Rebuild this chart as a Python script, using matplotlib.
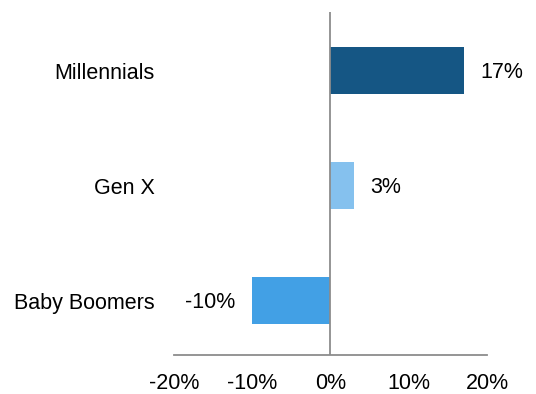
import matplotlib.pyplot as plt

categories = ["Baby Boomers", "Gen X", "Millennials"]
values = [-10, 3, 17]
colors = ["#42a0e5", "#85c1ee", "#155684"]
tick_values = [-20, -10, 0, 10, 20]

plt.rcParams['font.family'] = ['Liberation Sans', 'DejaVu Sans']

fig = plt.figure(figsize=(5.36, 3.94), dpi=100)
ax = fig.add_axes([0.3246, 0.099, 0.584, 0.8705])

pos = list(range(len(categories)))
ax.barh(pos, values, height=0.41, color=colors, zorder=2)
ax.axvline(0, color="#8c8c8c", linewidth=1.3, zorder=3)

for p, v in zip(pos, values):
    off = 12 if v >= 0 else -12
    ax.annotate(str(v) + "%", (v, p), xytext=(off, -1), textcoords="offset points",
                ha="left" if v >= 0 else "right", va="center", fontsize=15.5)

ax.set_xlim(-20, 20)
ax.set_ylim(-0.47, 2.51)
ax.set_xticks(tick_values)
ax.set_xticklabels([str(t) + "%" for t in tick_values])
ax.set_yticks(pos)
ax.set_yticklabels(categories)
ax.tick_params(axis="x", length=0, pad=13, labelsize=15.5)
ax.tick_params(axis="y", length=0, pad=14, labelsize=15.5)

for s in ["top", "right", "left"]:
    ax.spines[s].set_visible(False)
ax.spines["bottom"].set_color("#8c8c8c")
ax.spines["bottom"].set_linewidth(1.3)

fig.savefig("out.png", dpi=100)
